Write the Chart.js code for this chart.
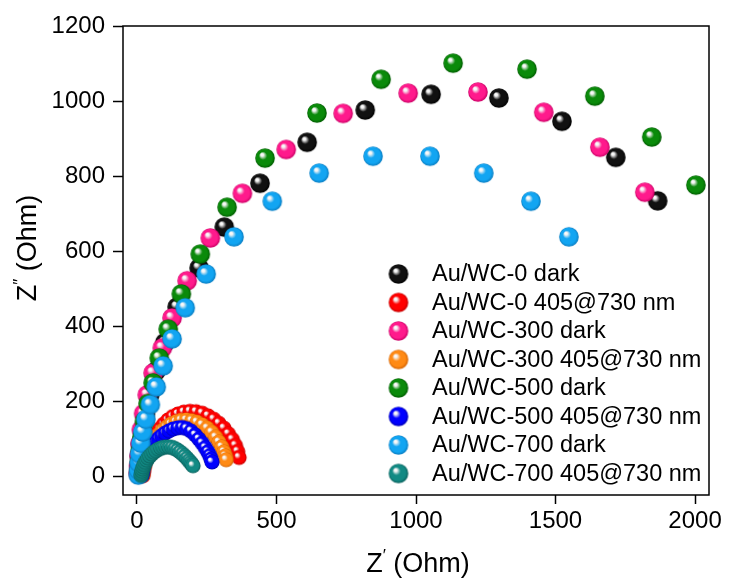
<!DOCTYPE html>
<html>
<head>
<meta charset="utf-8">
<title>Nyquist plots Au/WC</title>
<script src="https://cdn.jsdelivr.net/npm/chart.js@4.4.1/dist/chart.umd.min.js"></script>
<style>
  html, body { margin: 0; padding: 0; background: #fff; }
  canvas { display: block; }
</style>
</head>
<body>
<canvas id="nyquist" width="729" height="578"></canvas>
<script>
// Z' and Z'' (Ohm)
const wc0DarkX = [6, 7, 9, 13, 20, 30, 46, 68, 100, 144, 223, 313, 441, 610, 818, 1054, 1297, 1523, 1716, 1866];
const wc0DarkY = [8, 27, 53, 85, 122, 166, 218, 280, 356, 451, 555, 664, 781, 890, 976, 1018, 1008, 946, 850, 734];

const wc0LightX = [22, 24, 27, 31, 36, 42, 50, 59, 70, 82, 96, 111, 128, 147, 168, 190, 212, 234, 255, 275, 294, 312, 328, 342, 353, 361, 366];
const wc0LightY = [2, 13, 26, 40, 55, 70, 85, 100, 114, 127, 139, 150, 159, 166, 171, 173, 172, 168, 161, 152, 141, 128, 113, 98, 82, 66, 50];

const wc300DarkX = [5, 6, 8, 11, 16, 24, 37, 58, 91, 126, 180, 263, 378, 535, 739, 972, 1222, 1458, 1659, 1820];
const wc300DarkY = [8, 28, 55, 87, 124, 167, 217, 275, 342, 422, 521, 635, 754, 871, 967, 1021, 1024, 970, 877, 757];

const wc300LightX = [20, 22, 25, 29, 34, 40, 47, 56, 66, 78, 91, 106, 122, 140, 158, 177, 196, 215, 234, 252, 268, 282, 294, 304, 312, 317, 320];
const wc300LightY = [2, 12, 23, 35, 48, 61, 74, 87, 99, 111, 122, 131, 139, 145, 149, 150, 148, 144, 137, 128, 117, 104, 91, 78, 65, 54, 44];

const wc500DarkX = [7, 9, 12, 18, 27, 40, 58, 80, 112, 159, 227, 323, 459, 645, 875, 1133, 1398, 1641, 1845, 2003];
const wc500DarkY = [15, 38, 68, 104, 146, 194, 249, 315, 392, 486, 592, 717, 848, 968, 1058, 1101, 1085, 1013, 904, 776];

const wc500LightX = [18, 20, 22, 25, 29, 34, 40, 47, 55, 65, 76, 88, 101, 115, 130, 146, 162, 178, 194, 209, 222, 234, 245, 254, 261, 266, 269];
const wc500LightY = [2, 10, 19, 29, 39, 50, 60, 71, 81, 91, 100, 108, 115, 121, 126, 129, 130, 127, 120, 110, 99, 88, 76, 65, 55, 46, 38];

const wc700DarkX = [5, 6, 8, 10, 14, 21, 32, 48, 69, 94, 126, 173, 248, 348, 485, 653, 846, 1050, 1243, 1412, 1548];
const wc700DarkY = [3, 16, 36, 60, 88, 118, 152, 191, 238, 294, 366, 449, 539, 638, 733, 808, 853, 853, 808, 733, 638];

const wc700LightX = [15, 16, 18, 20, 23, 26, 30, 35, 40, 46, 53, 60, 68, 77, 86, 95, 105, 115, 125, 135, 145, 154, 163, 171, 179, 186, 192, 197, 201];
const wc700LightY = [2, 7, 13, 19, 25, 31, 37, 43, 49, 54, 59, 64, 68, 72, 75, 77, 78, 78, 77, 74, 70, 65, 60, 54, 48, 42, 37, 32, 28];

const seriesNames = [
    'Au/WC-0 dark', 'Au/WC-0 405@730 nm',
    'Au/WC-300 dark', 'Au/WC-300 405@730 nm',
    'Au/WC-500 dark', 'Au/WC-500 405@730 nm',
    'Au/WC-700 dark', 'Au/WC-700 405@730 nm'
];
const seriesX = [wc0DarkX, wc0LightX, wc300DarkX, wc300LightX, wc500DarkX, wc500LightX, wc700DarkX, wc700LightX];
const seriesY = [wc0DarkY, wc0LightY, wc300DarkY, wc300LightY, wc500DarkY, wc500LightY, wc700DarkY, wc700LightY];

const xTickValues = [0, 500, 1000, 1500, 2000];
const yTickValues = [0, 200, 400, 600, 800, 1000, 1200];

// colours: [body, shadow]
const ballColors = [
    ['#111111', '#000000'],
    ['#ff0000', '#c00000'],
    ['#ff1a8c', '#c80064'],
    ['#ff8a14', '#d06000'],
    ['#0a8a0a', '#005a00'],
    ['#0000ff', '#0000b0'],
    ['#12a5f2', '#0a7cc0'],
    ['#128a84', '#0a5e5a']
];

const FONT = 'Arial, "Liberation Sans", sans-serif';

// little shaded sphere used as marker
function makeBall(color, shadow, r) {
    const size = Math.ceil(r * 2) + 2;
    const c = document.createElement('canvas');
    c.width = size;
    c.height = size;
    const g = c.getContext('2d');
    const cx = size / 2, cy = size / 2;
    const grad = g.createRadialGradient(cx - r * 0.35, cy - r * 0.4, 0, cx, cy, r);
    grad.addColorStop(0, '#ffffff');
    grad.addColorStop(0.15, '#f4f4f4');
    grad.addColorStop(0.42, color);
    grad.addColorStop(0.8, color);
    grad.addColorStop(1, shadow);
    g.fillStyle = grad;
    g.beginPath();
    g.arc(cx, cy, r, 0, Math.PI * 2);
    g.fill();
    return c;
}

const bigBalls = ballColors.map(c => makeBall(c[0], c[1], 9.8));
const smallBalls = ballColors.map(c => makeBall(c[0], c[1], 7.6));

const datasets = seriesNames.map((name, i) => ({
    label: name,
    data: seriesX[i].map((x, k) => ({x: x, y: seriesY[i][k]})),
    pointStyle: (i % 2 === 0) ? bigBalls[i] : smallBalls[i],
    pointRadius: (i % 2 === 0) ? 10 : 7.5,
    showLine: false,
    order: seriesNames.length - i, // later series on top
    clip: false
}));

function drawAxisTitle(ctx, cx, cy, rotation, primes) {
    ctx.save();
    ctx.translate(cx, cy);
    ctx.rotate(rotation);
    const big = '27px ' + FONT, small = '17px ' + FONT;
    ctx.font = big;
    const wZ = ctx.measureText('Z').width;
    const wRest = ctx.measureText(' (Ohm)').width;
    ctx.font = small;
    const wP = ctx.measureText(primes).width;
    let x = -(wZ + wP + wRest) / 2;
    ctx.fillStyle = '#000';
    ctx.textBaseline = 'middle';
    ctx.textAlign = 'left';
    ctx.font = big;
    ctx.fillText('Z', x, 0);
    x += wZ;
    ctx.font = small;
    ctx.fillText(primes, x, -9);
    x += wP;
    ctx.font = big;
    ctx.fillText(' (Ohm)', x, 0);
    ctx.restore();
}

const framePlugin = {
    id: 'frame',
    beforeDatasetsDraw(chart) {
        const {ctx, chartArea: a} = chart;
        ctx.save();
        ctx.strokeStyle = '#000';
        ctx.lineWidth = 1.5;
        ctx.strokeRect(a.left, a.top, a.right - a.left, a.bottom - a.top);
        ctx.restore();
    },
    afterDraw(chart) {
        const ctx = chart.ctx;
        // legend
        ctx.save();
        ctx.font = '23.5px ' + FONT;
        ctx.fillStyle = '#000';
        ctx.textBaseline = 'middle';
        ctx.textAlign = 'left';
        seriesNames.forEach((name, i) => {
            const y = 274 + i * 28.5;
            const b = bigBalls[i];
            ctx.drawImage(b, 398.5 - b.width / 2, y - b.height / 2);
            ctx.fillText(name, 432, y + 1);
        });
        ctx.restore();
        // axis titles
        drawAxisTitle(ctx, 418, 565, 0, '\u2032');
        drawAxisTitle(ctx, 29, 248, -Math.PI / 2, '\u2033');
    }
};

const tickFont = {family: FONT, size: 24};

new Chart(document.getElementById('nyquist'), {
    type: 'scatter',
    data: {datasets: datasets},
    options: {
        responsive: false,
        devicePixelRatio: 1,
        animation: false,
        events: [],
        layout: {padding: {left: 0, right: 20, top: 26, bottom: 0}},
        plugins: {
            legend: {display: false},
            tooltip: {enabled: false}
        },
        scales: {
            x: {
                type: 'linear',
                min: -50,
                max: 2050,
                border: {display: false},
                grid: {drawOnChartArea: false, drawTicks: true, tickLength: 9, tickColor: '#000', tickWidth: 1.5},
                ticks: {color: '#000', font: tickFont, padding: 3, maxRotation: 0, callback: (v) => String(v)},
                afterBuildTicks: (scale) => { scale.ticks = xTickValues.map(v => ({value: v})); },
                afterFit: (scale) => { scale.height = 83; scale.paddingLeft = 0; scale.paddingRight = 0; }
            },
            y: {
                type: 'linear',
                min: -50,
                max: 1200,
                border: {display: false},
                grid: {drawOnChartArea: false, drawTicks: true, tickLength: 10, tickColor: '#000', tickWidth: 1.5},
                ticks: {color: '#000', font: tickFont, padding: 8, callback: (v) => String(v)},
                afterBuildTicks: (scale) => { scale.ticks = yTickValues.map(v => ({value: v})); },
                afterFit: (scale) => { scale.width = 123; scale.paddingTop = 0; scale.paddingBottom = 0; }
            }
        }
    },
    plugins: [framePlugin]
});
</script>
</body>
</html>
